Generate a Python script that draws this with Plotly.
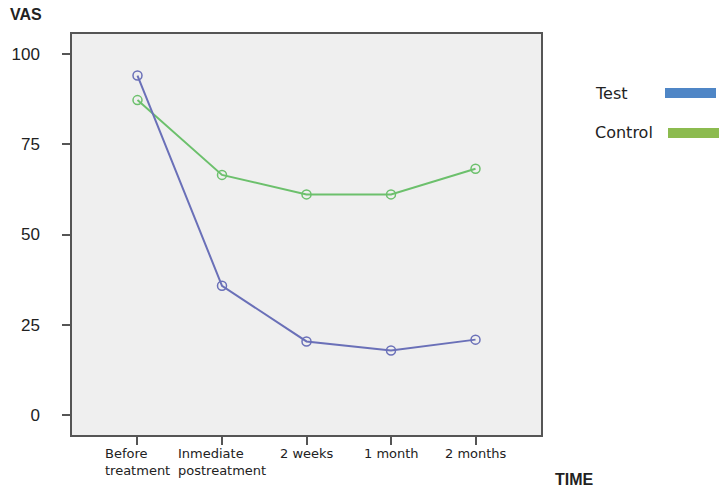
import plotly.graph_objects as go

categories = ["Before<br>treatment", "Inmediate<br>postreatment", "2 weeks", "1 month", "2 months"]
test_values = [94.0, 35.8, 20.4, 17.9, 20.9]
control_values = [87.2, 66.5, 61.1, 61.1, 68.2]
y_ticks = [0, 25, 50, 75, 100]

x_pos = list(range(len(categories)))

fig = go.Figure()
fig.add_trace(go.Scatter(
    x=x_pos, y=control_values, mode="lines+markers", name="Control",
    line=dict(color="#6cc06c", width=2),
    marker=dict(symbol="circle-open", size=9, color="#6cc06c", line=dict(width=1.5)),
    showlegend=False))
fig.add_trace(go.Scatter(
    x=x_pos, y=test_values, mode="lines+markers", name="Test",
    line=dict(color="#6a70b8", width=2),
    marker=dict(symbol="circle-open", size=9, color="#6a70b8", line=dict(width=1.5)),
    showlegend=False))

annotations = []
for i, c in enumerate(categories):
    annotations.append(dict(
        x=i, y=0, xref="x", yref="paper", yanchor="top", xanchor="center",
        yshift=-9, text=c, showarrow=False, align="left",
        font=dict(family="DejaVu Sans", size=13, color="#222")))

extra = [
    dict(x=8, y=15, text="<b>VAS</b>", showarrow=False,
         xanchor="left", yanchor="middle",
         font=dict(family="Liberation Sans", size=16, color="#222")),
    dict(x=553, y=479, text="<b>TIME</b>", showarrow=False, xanchor="left", yanchor="middle",
         font=dict(family="Liberation Sans", size=16, color="#222")),
    dict(x=593, y=93, text="Test", showarrow=False, xanchor="left", yanchor="middle",
         font=dict(family="DejaVu Sans", size=16, color="#222")),
    dict(x=593, y=132, text="Control", showarrow=False, xanchor="left", yanchor="middle",
         font=dict(family="DejaVu Sans", size=16, color="#222")),
]

# convert pixel positions for the free text into paper coordinates
W, H = 720, 490
L, R, T, B = 72, 179, 34, 55
pw, ph = W - L - R, H - T - B
for a in extra:
    a["xref"] = "paper"
    a["yref"] = "paper"
    a["x"] = (a["x"] - L) / pw
    a["y"] = (H - B - a["y"]) / ph
annotations += extra

def px_rect(x0, y0, x1, y1, color):
    return dict(type="rect", xref="paper", yref="paper",
                x0=(x0 - L) / pw, x1=(x1 - L) / pw,
                y0=(H - B - y1) / ph, y1=(H - B - y0) / ph,
                fillcolor=color, line=dict(width=0))

shapes = [
    px_rect(665, 88, 716, 98, "#4f86c6"),
    px_rect(668, 128, 719, 138, "#8cbb4f"),
]

fig.update_layout(
    width=W, height=H,
    margin=dict(l=L, r=R, t=T, b=B),
    paper_bgcolor="white", plot_bgcolor="#efefef",
    annotations=annotations, shapes=shapes,
    xaxis=dict(range=[-0.775, 4.775], tickvals=x_pos, ticktext=[""] * len(x_pos),
               showgrid=False, zeroline=False, showline=True, linecolor="#555",
               linewidth=1.5, mirror=True, ticks="outside", ticklen=8,
               tickcolor="#555", tickwidth=1.5),
    yaxis=dict(range=[-5.5, 105.5], tickvals=y_ticks,
               showgrid=False, zeroline=False, showline=True, linecolor="#555",
               linewidth=1.5, mirror=True, ticks="outside", ticklen=8,
               tickcolor="#555", tickwidth=1.5, ticklabelstandoff=19,
               tickfont=dict(family="Liberation Sans", size=17, color="#222")),
)

fig.write_html("out.html", post_script="document.body.style.margin='0';",
               config={"displayModeBar": False})
